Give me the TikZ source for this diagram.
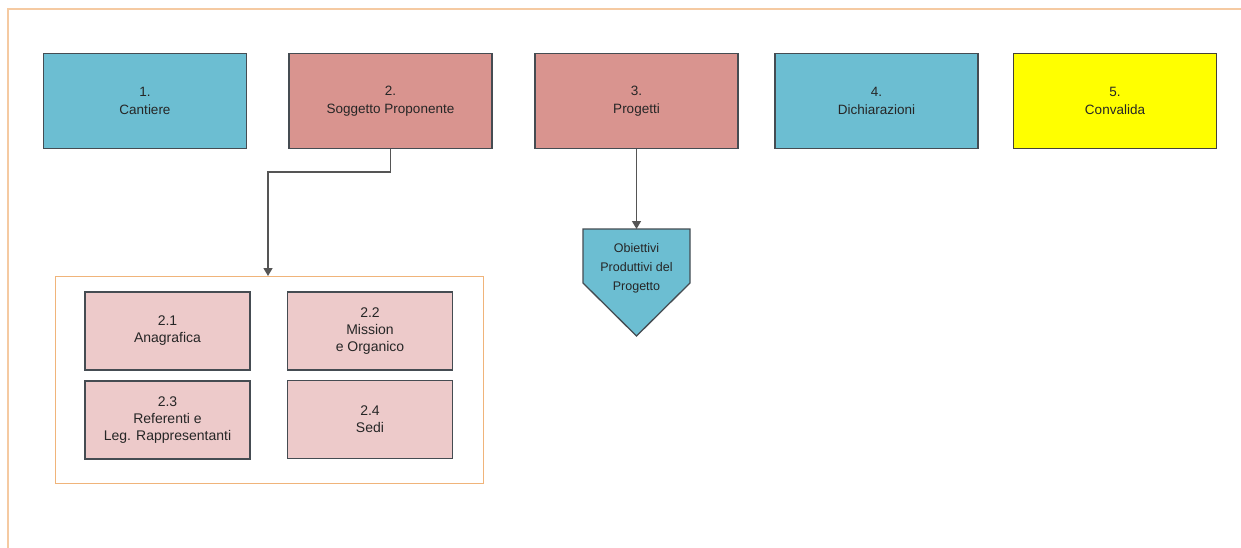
\documentclass[tikz,border=0pt]{standalone}
\usepackage{fontspec}
\setmainfont{Liberation Sans}
\usetikzlibrary{arrows.meta}
\definecolor{cblue}{HTML}{6CBED2}
\definecolor{cred}{HTML}{D9948F}
\definecolor{cpink}{HTML}{EDCACA}
\definecolor{cyel}{HTML}{FFFF00}
\definecolor{corange}{HTML}{F0B47A}
\definecolor{cedge}{HTML}{454C52}
\definecolor{cline}{HTML}{555555}
\definecolor{ctext}{HTML}{262626}
\tikzset{
  mainbox/.style={draw=cedge, line width=1.7pt, minimum width=203pt, minimum height=95pt, inner sep=0pt, align=center, text=ctext, font=\fontsize{13.5}{18}\selectfont},
  subbox/.style={draw=cedge, line width=1.3pt, minimum width=165pt, minimum height=78pt, inner sep=0pt, align=center, text=ctext, font=\fontsize{14}{17}\selectfont, fill=cpink},
  conn/.style={draw=cline, line width=1.4pt, -{Triangle[length=8pt,width=9pt]}},
}
\begin{document}
\begin{tikzpicture}[x=1pt,y=-1pt]
\useasboundingbox (0,0) rectangle (1241,548);
\fill[white] (0,0) rectangle (1241,548);
% outer frame
\draw[corange!70, line width=1.3pt] (8,548) -- (8,9) -- (1241,9);
% main boxes
\node[mainbox, fill=cblue] (b1) at (145,101) {1.\\Cantiere};
\node[mainbox, fill=cred] (b2) at (390.5,101) {2.\\Soggetto Proponente};
\node[mainbox, fill=cred] (b3) at (636.5,101) {3.\\Progetti};
\node[mainbox, fill=cblue] (b4) at (876.5,101) {4.\\Dichiarazioni};
\node[mainbox, fill=cyel, draw=black!60!yellow!40!black] (b5) at (1115,101) {5.\\Convalida};
% container
\node[draw=corange, line width=1pt, minimum width=428pt, minimum height=207pt, inner sep=0pt] (cont) at (269,379.5) {};
\node[subbox] (s1) at (167.5,331) {2.1\\Anagrafica};
\node[subbox] (s2) at (370,331) {2.2\\Mission\\e Organico};
\node[subbox] (s3) at (167.5,420) {2.3\\Referenti e\\Leg. Rappresentanti};
\node[subbox] (s4) at (370,419.5) {2.4\\Sedi};
% pentagon
\coordinate (ptop) at (636.5,229);
\fill[cblue, draw=cedge, line width=1.3pt] (583,229) -- (690,229) -- (690,283) -- (636.5,336) -- (583,283) -- cycle;
\node[align=center, text=ctext, font=\fontsize{12.5}{19}\selectfont] (pent) at (636.5,268) {Obiettivi\\Produttivi del\\Progetto};
% connectors
\coordinate (c2) at (268,276);
\draw[conn] (b2.south) -- (390.5,172) -- (268,172) -- (c2);
\draw[conn] (b3.south) -- (ptop);
\end{tikzpicture}
\end{document}
